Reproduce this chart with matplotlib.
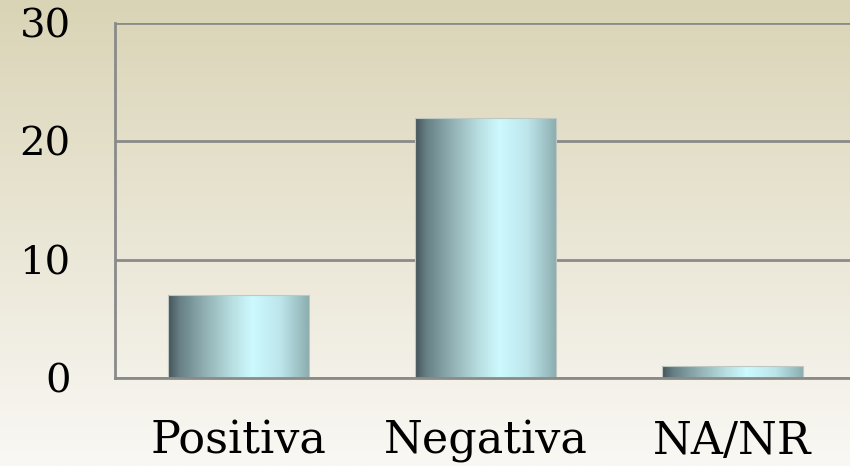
import numpy as np
import matplotlib
matplotlib.use("Agg")
import matplotlib.pyplot as plt
from matplotlib.colors import LinearSegmentedColormap

categories = ["Positiva", "Negativa", "NA/NR"]
values = [7, 22, 1]
yticks = [0, 10, 20, 30]

W, H, DPI = 850, 466, 100
fig = plt.figure(figsize=(W / DPI, H / DPI), dpi=DPI)

# background vertical gradient
bg = fig.add_axes([0, 0, 1, 1])
bg.set_axis_off()
top = np.array([218, 212, 182]) / 255
bot = np.array([249, 248, 244]) / 255
t = np.linspace(0, 1, 256)[:, None]
grad = top[None, :] * (1 - t) + bot[None, :] * t
bg.imshow(grad[:, None, :].repeat(2, axis=1), aspect="auto", extent=[0, 1, 0, 1])
bg.set_xlim(0, 1); bg.set_ylim(0, 1)

left = 115 / W
right = 856 / W
bottom = 1 - 378 / H
topf = 1 - 23 / H
ax = fig.add_axes([left, bottom, right - left, topf - bottom])
ax.patch.set_alpha(0)

x = np.arange(len(categories))
bars = ax.bar(x, values, width=0.57, color="none", zorder=3)

cmap = LinearSegmentedColormap.from_list(
    "cyl",
    [(0.0, (0.27, 0.33, 0.35)),
     (0.08, (0.40, 0.50, 0.52)),
     (0.25, (0.56, 0.68, 0.69)),
     (0.45, (0.72, 0.87, 0.88)),
     (0.60, (0.80, 0.98, 1.0)),
     (0.80, (0.74, 0.90, 0.92)),
     (0.95, (0.60, 0.74, 0.75)),
     (1.0, (0.55, 0.68, 0.69))])
hg = np.linspace(0, 1, 256)[None, :]
for b in bars:
    x0, y0 = b.get_x(), b.get_y()
    w, h = b.get_width(), b.get_height()
    im = ax.imshow(hg, cmap=cmap, aspect="auto",
                   extent=[x0, x0 + w, y0, y0 + h], zorder=3)
    im.set_clip_path(b)
    ax.add_patch(plt.Rectangle((x0, y0), w, h, fill=False,
                               edgecolor=(0.75, 0.78, 0.76), lw=0.8, zorder=4))

ax.set_xlim(-0.5, 2.5)
ax.set_ylim(0, 30)
ax.set_yticks(yticks)
ax.set_xticks(x)
ax.set_xticklabels(categories)
ax.yaxis.grid(True, color="#8a8a8a", lw=2.0, zorder=1)
ax.set_axisbelow(True)
for s in ["top", "right"]:
    ax.spines[s].set_visible(False)
ax.spines["left"].set_color("#8a8a8a")
ax.spines["left"].set_linewidth(2.0)
ax.spines["left"].set_bounds(0, 30)
ax.spines["bottom"].set_color("#8a8a8a")
ax.spines["bottom"].set_linewidth(2.0)
ax.spines["bottom"].set_zorder(5)
ax.tick_params(length=0)
ax.tick_params(axis="y", pad=32, labelsize=29)
ax.tick_params(axis="x", pad=30, labelsize=32)
for lab in ax.get_xticklabels() + ax.get_yticklabels():
    lab.set_family(["DejaVu Serif"])
    lab.set_color("black")

fig.savefig("out.png", dpi=DPI)
